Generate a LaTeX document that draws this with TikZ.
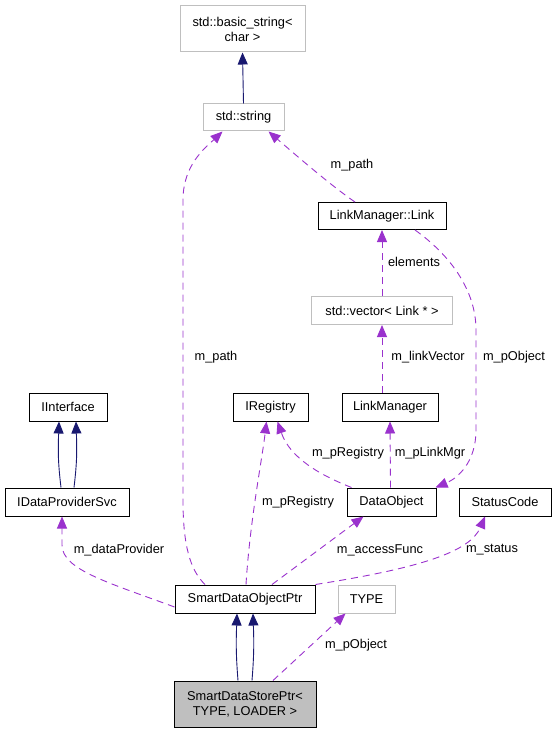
\documentclass[tikz,border=0pt]{standalone}
\usepackage{fontspec}
\setmainfont{Liberation Sans}
\usetikzlibrary{arrows.meta,calc}
\definecolor{navyc}{HTML}{191970}
\definecolor{purp}{HTML}{9A32CD}
\definecolor{grayb}{HTML}{BFBFBF}
\begin{document}
\begin{tikzpicture}[x=1pt,y=-1pt,
  every node/.style={font=\fontsize{12.8}{15}\selectfont, inner sep=0pt},
  cls/.style={draw=black, line width=1pt, fill=white, align=center},
  ext/.style={draw=grayb, line width=1pt, fill=white, align=center},
  inh/.style={draw=navyc, line width=0.9pt, -{Triangle[length=12pt,width=10pt,fill=navyc]}},
  usec/.style={draw=purp, line width=0.9pt, dash pattern=on 7pt off 5pt, -{Triangle[length=12pt,width=10pt,fill=purp,sep=0pt]}},
  lbl/.style={fill=none}]
\useasboundingbox (0,0) rectangle (556,733);
% nodes
\node[ext, minimum width=125pt, minimum height=46pt] (bstr) at (242.5,29) {std::basic\_string<\\char >};
\node[ext, minimum width=81pt, minimum height=27pt] (str) at (243.5,117.5) {std::string};
\node[cls, minimum width=128pt, minimum height=27pt] (link) at (382,216) {LinkManager::Link};
\node[ext, minimum width=141pt, minimum height=28pt] (vec) at (382,310.5) {std::vector< Link * >};
\node[cls, minimum width=78pt, minimum height=28pt] (iint) at (68,407) {IInterface};
\node[cls, minimum width=75pt, minimum height=28pt] (ireg) at (270.5,407) {IRegistry};
\node[cls, minimum width=96pt, minimum height=28pt] (lm) at (390,407) {LinkManager};
\node[cls, minimum width=124pt, minimum height=28pt] (idps) at (67,502) {IDataProviderSvc};
\node[cls, minimum width=89pt, minimum height=28pt] (dobj) at (391.5,502) {DataObject};
\node[cls, minimum width=92pt, minimum height=28pt] (sc) at (505,502) {StatusCode};
\node[cls, minimum width=140pt, minimum height=28pt] (sdop) at (245,599) {SmartDataObjectPtr};
\node[ext, minimum width=57pt, minimum height=28pt] (type) at (366.5,599) {TYPE};
\node[cls, fill=grayb, minimum width=142pt, minimum height=46pt] (sdsp) at (245,704) {SmartDataStorePtr<\\TYPE, LOADER >};
% inheritance
\draw[inh] (str.north) -- (bstr.south);
\draw[inh] ([xshift=-6]idps.north) .. controls +(-3,-25) and +(-1,30) .. ([xshift=-9]iint.south);
\draw[inh] ([xshift=7]idps.north) .. controls +(3,-25) and +(1,30) .. ([xshift=8]iint.south);
\draw[inh] ([xshift=-7]sdsp.north) .. controls +(-2,-25) and +(-1,30) .. ([xshift=-8]sdop.south);
\draw[inh] ([xshift=7]sdsp.north) .. controls +(2,-25) and +(1,30) .. ([xshift=8]sdop.south);
% usage
\draw[usec] ([xshift=-40]sdop.north) .. controls (190,570) and (183,545) .. (183,500) -- (183,200) .. controls (183,165) and (205,148) .. ([xshift=-21]str.south);
\node[lbl] (l1) at (216,357) {m\_path};
\draw[usec] ([xshift=-27]link.north) .. controls (330,185) and (290,150) .. ([xshift=25]str.south);
\node[lbl] (l2) at (352,165) {m\_path};
\draw[usec] (vec.north) -- (link.south);
\node[lbl] (l3) at (414,262) {elements};
\draw[usec] ([xshift=-8]lm.north) -- (vec.south);
\node[lbl] (l4) at (428,357) {m\_linkVector};
\draw[usec] ([xshift=33]link.south) .. controls (450,255) and (476,290) .. (476,330) -- (476,430) .. controls (476,462) and (458,478) .. ([xshift=-1]dobj.north east);
\node[lbl] (l5) at (514,357) {m\_pObject};
\draw[usec] ([xshift=-40]dobj.north) .. controls (320,475) and (290,458) .. ([xshift=7]ireg.south);
\node[lbl] (l6) at (348,453) {m\_pRegistry};
\draw[usec] ([xshift=-1]dobj.north) -- (lm.south);
\node[lbl] (l7) at (430,453) {m\_pLinkMgr};
\draw[usec] ([xshift=1]sdop.north) .. controls (250,520) and (262,460) .. ([xshift=-4]ireg.south);
\node[lbl] (l8) at (298,502) {m\_pRegistry};
\draw[usec] ([xshift=27]sdop.north) -- ([xshift=-28]dobj.south);
\node[lbl] (l9) at (380,550) {m\_accessFunc};
\draw[usec] ([yshift=-8]sdop.west) .. controls (110,583) and (62,570) .. (62,545) -- ([xshift=-5]idps.south);
\node[lbl] (l10) at (119,550) {m\_dataProvider};
\draw[usec] (sdop.north east) .. controls (420,568) and (470,552) .. ([xshift=-20]sc.south);
\node[lbl] (l11) at (492,550) {m\_status};
\draw[usec] ([xshift=28]sdsp.north) -- ([xshift=-21]type.south);
\node[lbl] (l12) at (356,645) {m\_pObject};
\end{tikzpicture}
\end{document}
